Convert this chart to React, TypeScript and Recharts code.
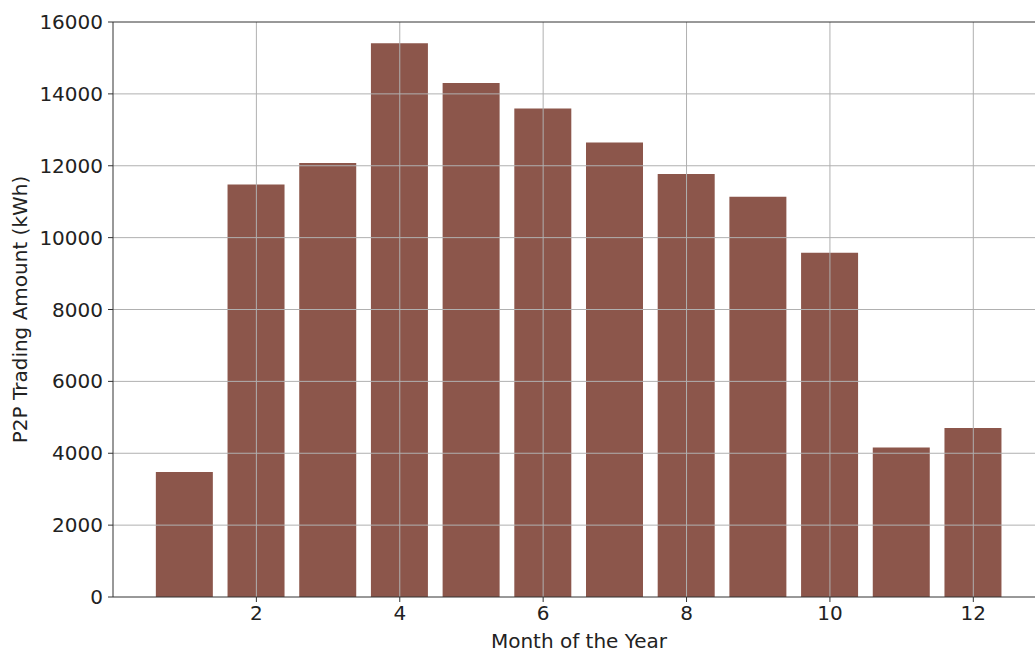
import { Bar, BarChart, ReferenceLine, XAxis, YAxis } from "recharts";

const months = [1, 2, 3, 4, 5, 6, 7, 8, 9, 10, 11, 12];
const tradingAmount = [3480, 11480, 12080, 15410, 14300, 13590, 12650, 11770, 11140, 9580, 4160, 4705];
const xTicks = [2, 4, 6, 8, 10, 12];
const yTicks = [0, 2000, 4000, 6000, 8000, 10000, 12000, 14000, 16000];

const BAR_COLOR = "#8c564b";
const GRID_COLOR = "#b0b0b0";
const SPINE_COLOR = "#333333";
const FONT = "'DejaVu Sans', sans-serif";
const FONT_SIZE = 20;

const data = months.map((month, i) => ({ month, amount: tradingAmount[i] }));

export default function App() {
  const textStyle = { fontSize: FONT_SIZE, fill: "#222", fontFamily: FONT };

  return (
    <div
      style={{
        position: "fixed",
        left: 0,
        top: 0,
        width: 1035,
        height: 653,
        overflow: "hidden",
        background: "#fff"
      }}
    >
      <BarChart
        width={1050}
        height={653}
        data={data}
        margin={{ top: 22, right: 5, bottom: 0, left: 0 }}
        style={{ fontFamily: FONT }}
      >
        <XAxis
          dataKey="month"
          type="number"
          domain={[0, 13]}
          ticks={xTicks}
          height={56}
          tickSize={5}
          tickMargin={4}
          tick={textStyle}
          stroke={SPINE_COLOR}
          tickLine={{ stroke: SPINE_COLOR }}
          axisLine={{ stroke: SPINE_COLOR }}
          label={{
            value: "Month of the Year",
            position: "insideBottom",
            offset: 5,
            style: textStyle
          }}
        />
        <YAxis
          type="number"
          domain={[0, 16000]}
          ticks={yTicks}
          width={113}
          tickSize={5}
          tickMargin={5}
          tick={textStyle}
          stroke={SPINE_COLOR}
          tickLine={{ stroke: SPINE_COLOR }}
          axisLine={{ stroke: SPINE_COLOR }}
          label={{
            value: "P2P Trading Amount (kWh)",
            angle: -90,
            position: "insideLeft",
            offset: 20,
            style: { ...textStyle, textAnchor: "middle" }
          }}
        />
        <Bar dataKey="amount" fill={BAR_COLOR} barSize={57} isAnimationActive={false} />
        {yTicks.slice(1, -1).map((t) => (
          <ReferenceLine key={`y${t}`} y={t} stroke={GRID_COLOR} strokeWidth={1} />
        ))}
        {xTicks.map((t) => (
          <ReferenceLine key={`x${t}`} x={t} stroke={GRID_COLOR} strokeWidth={1} />
        ))}
        <ReferenceLine y={16000} stroke={SPINE_COLOR} strokeWidth={1} />
      </BarChart>
    </div>
  );
}
